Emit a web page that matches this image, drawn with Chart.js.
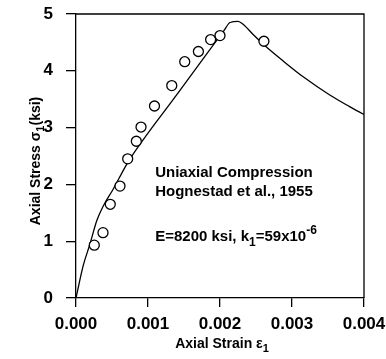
<!DOCTYPE html>
<html>
<head>
<meta charset="utf-8">
<script src="https://cdn.jsdelivr.net/npm/chart.js@4/dist/chart.umd.min.js"></script>
<style>
  html, body { margin: 0; padding: 0; background: #fff; }
</style>
</head>
<body>
<canvas id="myChart" width="386" height="359"></canvas>
<script>
// test points (Hognestad et al., 1955)
testStrain = [0.000254, 0.000375, 0.000476, 0.000611, 0.000718, 0.000838, 0.000903, 0.00109, 0.00133, 0.00151, 0.0017, 0.00187, 0.0020, 0.00261];
testStress = [0.93, 1.15, 1.65, 1.97, 2.45, 2.76, 3.01, 3.38, 3.74, 4.16, 4.34, 4.55, 4.62, 4.52];

// model curve
modelStrain = [0, 0.0001, 0.000194, 0.000288, 0.000379, 0.000518, 0.00068, 0.00075, 0.0014, 0.00205, 0.00214, 0.00225, 0.00232, 0.00246, 0.002625, 0.00288, 0.00316, 0.00353, 0.0038, 0.004];
modelStress = [0, 0.57, 0.95, 1.36, 1.62, 1.92, 2.3, 2.45, 3.58, 4.7, 4.85, 4.87, 4.82, 4.64, 4.44, 4.17, 3.89, 3.57, 3.37, 3.23];

xTicks = [0, 0.001, 0.002, 0.003, 0.004];
yTicks = [0, 1, 2, 3, 4, 5];

var font = "'Liberation Sans', Arial, sans-serif";

function toPoints(xs, ys) {
    return xs.map(function (x, i) { return {x: x, y: ys[i]}; });
}

// text pieces: [text, 'sub' | 'sup' | '']
function drawRich(ctx, parts, x, y, size, align) {
    var small = Math.round(size * 0.8);
    var w = 0;
    parts.forEach(function (p) {
        ctx.font = 'bold ' + (p[1] ? small : size) + 'px ' + font;
        w += ctx.measureText(p[0]).width;
    });
    var cx = align === 'center' ? x - w / 2 : x;
    parts.forEach(function (p) {
        ctx.font = 'bold ' + (p[1] ? small : size) + 'px ' + font;
        var dy = p[1] === 'sub' ? size * 0.35 : (p[1] === 'sup' ? -size * 0.45 : 0);
        ctx.fillText(p[0], cx, y + dy);
        cx += ctx.measureText(p[0]).width;
    });
}

var textPlugin = {
    id: 'texts',
    afterDatasetsDraw: function (chart) {
        var a = chart.chartArea, ctx = chart.ctx;
        var xs = chart.scales.x, ys = chart.scales.y;
        ctx.save();
        ctx.strokeStyle = '#000';
        ctx.lineWidth = 1.3;
        ctx.beginPath();
        ctx.moveTo(a.left, a.top);
        ctx.lineTo(a.right, a.top);
        ctx.lineTo(a.right, a.bottom);
        ctx.stroke();

        ctx.fillStyle = '#000';
        ctx.textBaseline = 'middle';
        ctx.textAlign = 'left';
        var tx = xs.getPixelForValue(0.0011);
        drawRich(ctx, [["Uniaxial Compression", '']], tx, ys.getPixelForValue(2.2), 15);
        drawRich(ctx, [["Hognestad et al., 1955", '']], tx, ys.getPixelForValue(1.87), 15);
        drawRich(ctx, [["E=8200 ksi, k", ''], ["1", 'sub'], ["=59x10", ''], ["-6", 'sup']], tx, ys.getPixelForValue(1.07), 15);

        // axis titles
        drawRich(ctx, [["Axial Strain ε", ''], ["1", 'sub']], (a.left + a.right) / 2 + 2, 344, 14, 'center');
        ctx.translate(36, (a.top + a.bottom) / 2 + 5);
        ctx.rotate(-Math.PI / 2);
        drawRich(ctx, [["Axial Stress σ", ''], ["1", 'sub'], ["(ksi)", '']], 0, 0, 14, 'center');
        ctx.restore();
    }
};

var ctx = document.getElementById("myChart").getContext('2d');
var myChart = new Chart(ctx, {
    type: 'scatter',
    data: {
        datasets: [{
                label: 'Model',
                data: toPoints(modelStrain, modelStress),
                showLine: true,
                borderColor: '#000',
                borderWidth: 1.3,
                pointRadius: 0,
                cubicInterpolationMode: 'monotone',
                order: 2
            },
            {
                label: 'Test',
                data: toPoints(testStrain, testStress),
                pointStyle: 'circle',
                pointRadius: 5,
                pointBorderWidth: 1.3,
                pointBorderColor: '#000',
                pointBackgroundColor: '#fff',
                order: 1
            }
        ]
    },
    options: {
        responsive: false,
        animation: false,
        layout: {padding: {top: 14, right: 22, left: 0, bottom: 0}},
        plugins: {legend: {display: false}, tooltip: {enabled: false}},
        scales: {
            x: {
                type: 'linear',
                min: 0, max: 0.004,
                afterBuildTicks: function (s) { s.ticks = xTicks.map(function (v) { return {value: v}; }); },
                afterFit: function (s) { s.height = 61; s.paddingLeft = 0; s.paddingRight = 0; },
                border: {color: '#000', width: 1.3},
                grid: {drawOnChartArea: false, tickLength: 9, color: '#000', lineWidth: 1.3},
                ticks: {
                    color: '#000', padding: 7, maxRotation: 0,
                    font: {family: font, size: 17, weight: 'bold'},
                    callback: function (v) { return v.toFixed(3); }
                }
            },
            y: {
                type: 'linear',
                min: 0, max: 5,
                afterBuildTicks: function (s) { s.ticks = yTicks.map(function (v) { return {value: v}; }); },
                afterFit: function (s) { s.width = 76; s.paddingTop = 0; s.paddingBottom = 0; },
                border: {color: '#000', width: 1.3},
                grid: {drawOnChartArea: false, tickLength: 10, color: '#000', lineWidth: 1.3},
                ticks: {
                    color: '#000', padding: 13,
                    font: {family: font, size: 17, weight: 'bold'}
                }
            }
        }
    },
    plugins: [textPlugin]
});
</script>
</body>
</html>
